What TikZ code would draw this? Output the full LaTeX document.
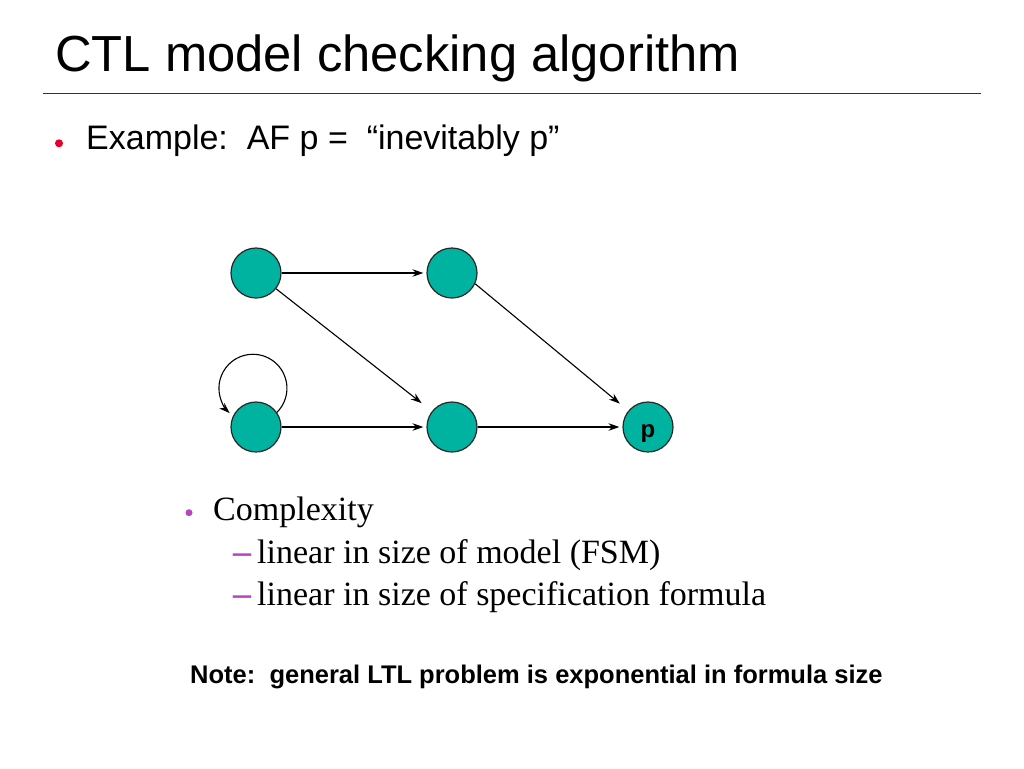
\documentclass[tikz,border=0pt]{standalone}
\usepackage{fontspec}
\setmainfont{Liberation Serif}
\setsansfont{Liberation Sans}
\usetikzlibrary{arrows.meta}
\definecolor{stategreen}{RGB}{0,179,160}
\definecolor{bulletred}{RGB}{232,0,40}
\definecolor{bulletpurple}{RGB}{180,70,190}

\begin{document}
\begin{tikzpicture}[x=1pt, y=-1pt,
        state/.style={circle, draw=black!85, line width=1.2pt, fill=stategreen, minimum size=50pt, inner sep=0pt},
        arr/.style={-{Stealth[length=11pt, width=7.5pt]}, line width=1.1pt},
        txt/.style={anchor=base west, inner sep=0pt}]
            \useasboundingbox[fill=white] (0,0) rectangle (1024,768);

            \node[txt, font=\sffamily\fontsize{50.7}{60}\selectfont] (title) at (55,71.7) {CTL model checking algorithm};
            \draw[line width=1.5pt, black!80] (43,93.3) -- (981,93.3);

            \fill[bulletred] (59,143.3) circle (4);
            \node[txt, font=\sffamily\fontsize{34}{40}\selectfont] (example) at (86,149.3) {Example:\ \ AF p =\ \ “inevitably p”};

            \node[state] (A) at (256,273) {};
            \node[state] (B) at (452,273) {};
            \node[state] (C) at (256,427) {};
            \node[state] (D) at (452,427) {};
            \node[state, font=\sffamily\bfseries\fontsize{24}{24}\selectfont, text height=21.5pt, text depth=0pt] (P) at (648,427) {p};

            \draw[arr, shorten >=3pt] (A) -- (B);
            \draw[arr, shorten >=13pt] (A) -- (D);
            \draw[arr, shorten >=11pt] (B.-25) -- (P);
            \draw[arr, shorten >=3pt] (C) -- (D);
            \draw[arr, shorten >=3pt] (D) -- (P);
            \draw[arr] (C.35) arc[start angle=45, end angle=-227, radius=34];

            \fill[bulletpurple] (189,512.7) circle (3.5);
            \node[txt, font=\fontsize{34}{40}\selectfont] (complexity) at (213,520) {Complexity};
            \node[txt, font=\bfseries\fontsize{36}{40}\selectfont, text=bulletpurple] (dashA) at (233,563) {–};
            \node[txt, font=\fontsize{34}{40}\selectfont] (model) at (257,563) {linear in size of model (FSM)};
            \node[txt, font=\bfseries\fontsize{36}{40}\selectfont, text=bulletpurple] (dashB) at (233,605) {–};
            \node[txt, font=\fontsize{34}{40}\selectfont] (formula) at (257,605) {linear in size of specification formula};

            \node[txt, font=\sffamily\bfseries\fontsize{25.5}{30}\selectfont] (note) at (190,683.3) {Note:\ \ general LTL problem is exponential in formula size};
        \end{tikzpicture}
\end{document}
